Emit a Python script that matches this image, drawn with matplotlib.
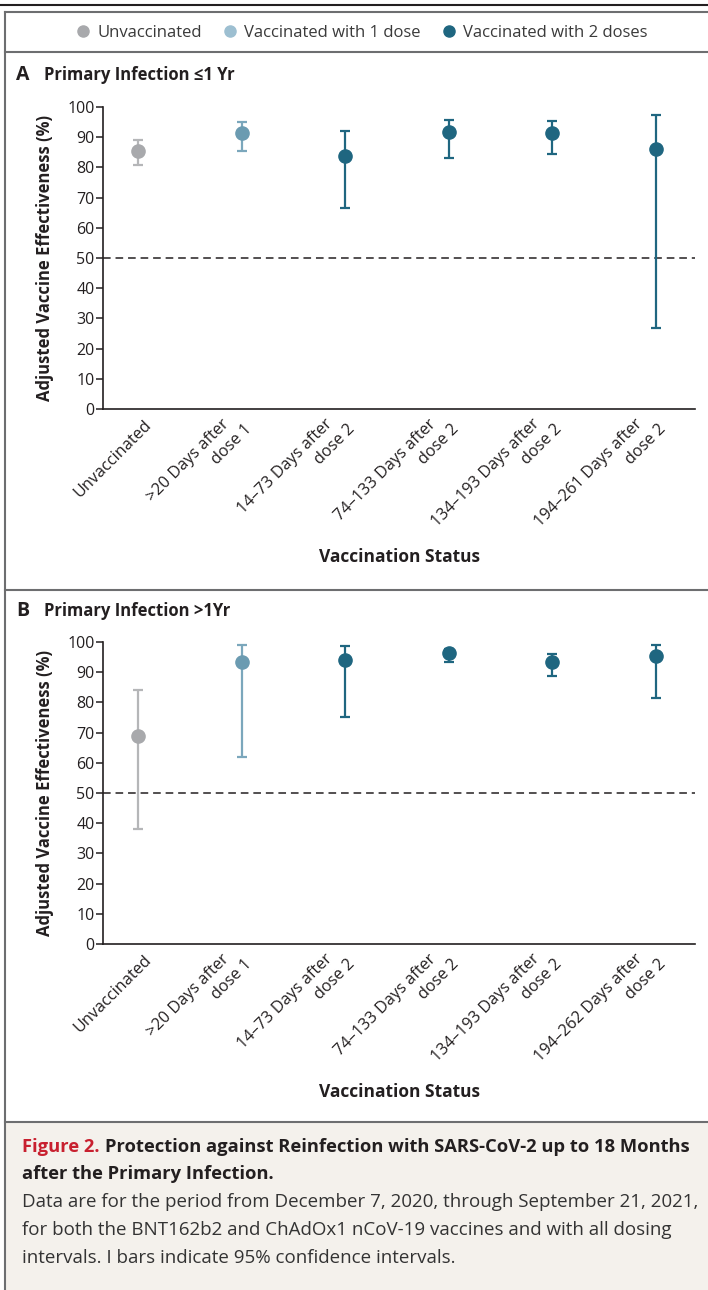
import numpy as np
import matplotlib
matplotlib.use("Agg")
import matplotlib.pyplot as plt
from matplotlib.lines import Line2D
from matplotlib.patches import Rectangle

plt.rcParams['font.family'] = ['Open Sans', 'DejaVu Sans']

# data
groups = ['Unvaccinated', 'Vaccinated with 1 dose', 'Vaccinated with 2 doses']
labels_a = ['Unvaccinated', '>20 Days after   \ndose 1', '14\u201373 Days after   \ndose 2',
            '74\u2013133 Days after   \ndose 2', '134\u2013193 Days after   \ndose 2',
            '194\u2013261 Days after   \ndose 2']
labels_b = ['Unvaccinated', '>20 Days after   \ndose 1', '14\u201373 Days after   \ndose 2',
            '74\u2013133 Days after   \ndose 2', '134\u2013193 Days after   \ndose 2',
            '194\u2013262 Days after   \ndose 2']
group_of = [0, 1, 2, 2, 2, 2]

est_a = [85.5, 91.5, 83.7, 91.6, 91.4, 86.0]
lo_a = [80.7, 85.3, 66.4, 83.1, 84.6, 26.9]
hi_a = [89.0, 94.9, 92.0, 95.6, 95.3, 97.3]

est_b = [68.8, 93.4, 93.9, 96.5, 93.3, 95.3]
lo_b = [38.2, 61.8, 75.0, 93.4, 88.6, 81.5]
hi_b = [84.1, 98.9, 98.6, 97.6, 96.1, 98.9]

marker_cols = ['#a8a9ac', '#6b9bb1', '#1f6680']
bar_cols = ['#b5b6b8', '#7ba7bc', '#1f6680']
legend_cols = ['#a8a9ac', '#9dbfd1', '#1f6680']
txt = '#231f20'

W, H = 708, 1290
fig = plt.figure(figsize=(W / 100, H / 100), dpi=100)


def fx(px):
    return px / W


def fy(py):
    return 1 - py / H


# caption background + frame lines
fig.patches.append(Rectangle((fx(5), 0), 1, fy(1122), transform=fig.transFigure,
                             facecolor='#f4f1ec', edgecolor='none', zorder=0))
for y in [12, 52, 590, 1122]:
    fig.add_artist(Line2D([fx(5), 1], [fy(y), fy(y)], color='#6d6e70', lw=1.5))
fig.add_artist(Line2D([0, 1], [fy(5), fy(5)], color='#231f20', lw=1.5))
fig.add_artist(Line2D([fx(5), fx(5)], [0, fy(12)], color='#6d6e70', lw=1.5))

# legend
handles = [Line2D([], [], marker='o', ls='none', ms=8, color=c) for c in legend_cols]
fig.legend(handles, groups, loc='center', bbox_to_anchor=(fx(361), fy(33)), ncol=3,
           frameon=False, fontsize=12, handlelength=1.0, handletextpad=0.35,
           columnspacing=1.2, labelcolor='#3a3a3a')


def panel(top, est, lo, hi, labels):
    ax = fig.add_axes([fx(103), fy(top + 302), fx(592), 302 / H])
    x = np.arange(len(est))
    for i in range(len(est)):
        g = group_of[i]
        ax.errorbar(x[i], est[i], yerr=[[est[i] - lo[i]], [hi[i] - est[i]]],
                    fmt='none', ecolor=bar_cols[g], elinewidth=1.6, capsize=3.8,
                    capthick=1.6, zorder=2)
        ax.plot(x[i], est[i], 'o', ms=9.5, color=marker_cols[g], zorder=3)
    ax.axhline(50, color='#231f20', lw=1.1, ls=(0, (5, 3.2)), zorder=1)
    ax.set_xlim(-0.34, 5.38)
    ax.set_ylim(0, 100)
    ax.set_yticks(range(0, 101, 10))
    ax.set_xticks([])
    ax.spines[['top', 'right']].set_visible(False)
    for s in ['left', 'bottom']:
        ax.spines[s].set_color(txt)
        ax.spines[s].set_linewidth(1.2)
    ax.tick_params(axis='y', direction='out', length=5, width=1.1, pad=1,
                   labelsize=11.5, colors=txt)
    ax.set_ylabel('Adjusted Vaccine Effectiveness (%)', fontsize=12,
                  fontweight='bold', color=txt)
    ax.yaxis.set_label_coords(-0.082, 0.5)
    for i, lab in enumerate(labels):
        off = (8, -10) if '\n' not in lab else (0.5, -7.5)
        ax.annotate(lab, xy=(x[i], 0), xycoords=('data', 'axes fraction'),
                    xytext=off, textcoords='offset points', rotation=45,
                    rotation_mode='anchor', ha='right', va='center',
                    multialignment='right', fontsize=11.7, color=txt,
                    linespacing=1.3)
    return ax


ax_a = panel(107, est_a, lo_a, hi_a, labels_a)
ax_b = panel(642, est_b, lo_b, hi_b, labels_b)

fig.text(fx(399), fy(557), 'Vaccination Status', ha='center', va='center',
         fontsize=12.5, fontweight='bold', color=txt)
fig.text(fx(399), fy(1092), 'Vaccination Status', ha='center', va='center',
         fontsize=12.5, fontweight='bold', color=txt)

fig.text(fx(16), fy(75), 'A', ha='left', va='center', fontsize=14,
         fontweight='bold', color=txt)
fig.text(fx(44), fy(75), 'Primary Infection \u22641 Yr', ha='left', va='center',
         fontsize=12, fontweight='bold', color=txt)
fig.text(fx(16), fy(611), 'B', ha='left', va='center', fontsize=14,
         fontweight='bold', color=txt)
fig.text(fx(44), fy(611), 'Primary Infection >1Yr', ha='left', va='center',
         fontsize=12, fontweight='bold', color=txt)

# caption
t1 = fig.text(fx(22), fy(1147), 'Figure 2.', ha='left', va='center', fontsize=13.2,
              fontweight='bold', color='#c8202f')
bb = t1.get_window_extent(renderer=fig.canvas.get_renderer())
fig.text((bb.x1 + 5) / W, fy(1147),
         'Protection against Reinfection with SARS-CoV-2 up to 18 Months',
         ha='left', va='center', fontsize=13.2, fontweight='bold', color=txt)
fig.text(fx(22), fy(1174), 'after the Primary Infection.', ha='left', va='center',
         fontsize=13.2, fontweight='bold', color=txt)
body = ['Data are for the period from December 7, 2020, through September 21, 2021,',
        'for both the BNT162b2 and ChAdOx1 nCoV-19 vaccines and with all dosing',
        'intervals. I bars indicate 95% confidence intervals.']
for k, line in enumerate(body):
    fig.text(fx(22), fy(1202 + 28 * k), line, ha='left', va='center', fontsize=13.5,
             color='#333333')

fig.savefig('out.png', dpi=100)
